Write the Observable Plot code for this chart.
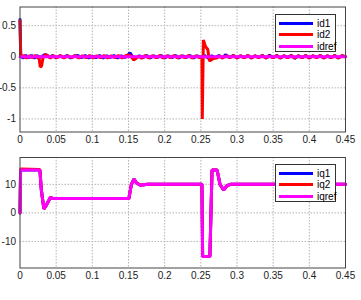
<!DOCTYPE html>
<html>
<head>
<meta charset="utf-8">
<script src="https://cdn.jsdelivr.net/npm/d3@7"></script>
<script src="https://cdn.jsdelivr.net/npm/@observablehq/plot@0.6"></script>
<style>
  body { margin: 0; background: #fff; }
  #wrap { position: relative; width: 361px; height: 300px; font-family: "Liberation Sans", Arial, sans-serif; }
  #top, #bot { position: absolute; left: 0; width: 361px; height: 150px; }
  #top { top: 0; } #bot { top: 150px; }
  .legend { position: absolute; background: #fff; border: 1px solid #333; width: 61px; height: 38px; box-sizing: border-box; }
  .legend .row { position: absolute; left: 3px; height: 11px; line-height: 11px; display: flex; align-items: center; font-size: 10px; color: #000; }
  .legend .sw { width: 34px; height: 3px; margin-right: 4px; }
</style>
</head>
<body>
<div id="wrap">
  <div id="top"></div>
  <div id="bot"></div>
</div>
<script>
// ---- data ----
const xTicks = [0, 0.05, 0.1, 0.15, 0.2, 0.25, 0.3, 0.35, 0.4, 0.45];
const xTickLabels = ["0", "0.05", "0.1", "0.15", "0.2", "0.25", "0.3", "0.35", "0.4", "0.45"];
const idTicks = [-1, -0.5, 0, 0.5];
const idTickLabels = ["-1", "-0.5", "0", "0.5"];
const iqTicks = [-10, 0, 10];
const iqTickLabels = ["-10", "0", "10"];
const idNames = ["id1", "id2", "idref"];
const iqNames = ["iq1", "iq2", "iqref"];
const seriesColors = ["#0000ff", "#ff0000", "#ff00ff"];

// id1 (blue): [t, value]
const id1 = [[0,0.6],[0.001,0.02],[0.004,-0.02],[0.008,0.02],[0.012,-0.015],[0.016,0.02],[0.02,-0.02],[0.024,0.015],[0.027,-0.01],[0.03,0.0],[0.034,0.035],[0.037,0.025],[0.041,-0.01],[0.045,0.02],[0.05,-0.02],[0.055,0.015],[0.06,-0.01],[0.065,0.02],[0.07,-0.02],[0.075,0.01],[0.08,0.02],[0.085,-0.015],[0.09,0.02],[0.095,-0.02],[0.1,0.01],[0.105,-0.015],[0.11,0.02],[0.115,-0.02],[0.12,0.015],[0.125,-0.01],[0.13,0.02],[0.135,-0.02],[0.14,0.015],[0.145,-0.01],[0.149,0.02],[0.152,0.065],[0.155,0.01],[0.16,-0.02],[0.165,0.015],[0.17,-0.015],[0.175,0.02],[0.18,-0.02],[0.185,0.015],[0.19,-0.01],[0.195,0.02],[0.2,-0.02],[0.205,0.015],[0.21,-0.015],[0.215,0.02],[0.22,-0.02],[0.225,0.015],[0.23,-0.01],[0.235,0.02],[0.24,-0.02],[0.245,0.015],[0.25,-0.01],[0.255,0.02],[0.26,-0.02],[0.265,0.015],[0.27,-0.015],[0.275,0.02],[0.28,-0.02],[0.284,0.03],[0.29,-0.01],[0.295,0.02],[0.3,-0.02],[0.305,0.015],[0.31,-0.015],[0.315,0.02],[0.32,-0.02],[0.325,0.015],[0.33,-0.01],[0.335,0.02],[0.34,-0.02],[0.345,0.025],[0.35,-0.015],[0.355,0.02],[0.36,-0.02],[0.365,0.015],[0.37,-0.01],[0.375,0.02],[0.38,-0.025],[0.385,0.015],[0.39,-0.015],[0.395,0.02],[0.4,-0.02],[0.405,0.015],[0.41,-0.01],[0.415,0.02],[0.42,-0.02],[0.425,0.015],[0.43,-0.015],[0.435,0.02],[0.44,-0.02],[0.445,0.015],[0.45,0.0]];

// id2 (red): [t, value]
const id2 = [[0,0.58],[0.001,0.0],[0.005,0.02],[0.009,-0.02],[0.013,0.015],[0.017,-0.015],[0.021,0.02],[0.025,-0.02],[0.0265,-0.03],[0.028,-0.165],[0.0298,-0.15],[0.0318,-0.02],[0.034,0.02],[0.0355,0.035],[0.038,0.02],[0.042,-0.02],[0.046,0.015],[0.051,-0.015],[0.056,0.02],[0.061,-0.02],[0.066,0.015],[0.071,-0.015],[0.076,0.02],[0.081,-0.02],[0.086,0.015],[0.091,-0.015],[0.096,0.02],[0.101,-0.02],[0.106,0.015],[0.111,-0.015],[0.116,0.02],[0.121,-0.02],[0.126,0.015],[0.131,-0.015],[0.136,0.02],[0.141,-0.02],[0.146,0.015],[0.151,0.03],[0.154,0.0],[0.157,-0.05],[0.16,-0.03],[0.164,0.01],[0.168,-0.025],[0.173,0.02],[0.178,-0.02],[0.183,0.015],[0.188,-0.015],[0.193,0.02],[0.198,-0.02],[0.203,0.015],[0.208,-0.015],[0.213,0.02],[0.218,-0.02],[0.223,0.015],[0.228,-0.015],[0.233,0.02],[0.238,-0.02],[0.243,0.015],[0.248,-0.015],[0.2515,0.0],[0.252,-1.0],[0.2535,0.27],[0.2565,0.16],[0.2595,0.12],[0.262,-0.07],[0.264,-0.05],[0.267,-0.03],[0.272,-0.02],[0.276,0.01],[0.28,-0.02],[0.285,0.015],[0.29,-0.015],[0.295,0.02],[0.3,-0.02],[0.305,0.015],[0.31,-0.015],[0.315,0.02],[0.32,-0.02],[0.325,0.015],[0.33,-0.015],[0.335,0.02],[0.34,-0.02],[0.345,0.015],[0.35,-0.015],[0.355,0.02],[0.36,-0.02],[0.365,0.015],[0.37,-0.015],[0.375,0.02],[0.38,-0.02],[0.385,0.015],[0.39,-0.015],[0.395,0.02],[0.4,-0.02],[0.405,0.015],[0.41,-0.015],[0.415,0.02],[0.42,-0.02],[0.425,0.015],[0.43,-0.015],[0.435,0.02],[0.44,-0.02],[0.445,0.015],[0.45,0.0]];

// idref (magenta)
const idref = [[0,0],[0.45,0]];

// iq series: [t, value]
const iq1 = [[0,0],[0.0008,15],[0.0275,15],[0.0295,8],[0.033,1.4],[0.036,2.5],[0.042,5.4],[0.046,5],[0.1505,5],[0.154,10],[0.1575,11.8],[0.161,10.5],[0.1665,9.7],[0.176,10],[0.2515,10],[0.2525,-15.3],[0.2625,-15.3],[0.2655,15],[0.2725,15],[0.2765,10],[0.2815,8],[0.286,9.5],[0.291,10],[0.45,10]];
const iq2 = [[0,0],[0.0008,15.4],[0.0275,15.2],[0.0295,8],[0.033,1.4],[0.036,2.5],[0.042,5.4],[0.046,5],[0.1505,5],[0.154,10],[0.1575,11.8],[0.161,10.5],[0.1665,9.7],[0.176,10],[0.2515,10],[0.2525,-15.3],[0.2625,-15.3],[0.2655,15],[0.2725,15],[0.2765,10],[0.2815,8],[0.286,9.5],[0.291,10],[0.45,10]];
const iqref = [[0,0],[0.0008,15],[0.0275,15],[0.0295,8],[0.033,1.4],[0.036,2.5],[0.042,5.4],[0.046,5],[0.1505,5],[0.154,10],[0.1575,11.8],[0.161,10.5],[0.1665,9.7],[0.176,10],[0.2515,10],[0.2525,-15.3],[0.2625,-15.3],[0.2655,15],[0.2725,15],[0.2765,10],[0.2815,8],[0.286,9.5],[0.291,10],[0.45,10]];

// ---- drawing ----
const fmt = (ticks, labels) => d => labels[ticks.indexOf(d)];

function panel(series, yDomain, yTicks, yLabels, mt, mb) {
  return Plot.plot({
    width: 361, height: 150,
    marginLeft: 19.5, marginRight: 16, marginTop: mt, marginBottom: mb,
    style: { fontFamily: "Liberation Sans, Arial, sans-serif", fontSize: "10px", background: "#fff", overflow: "visible" },
    x: { domain: [0, 0.45], ticks: xTicks, tickFormat: fmt(xTicks, xTickLabels), tickSize: 0, tickPadding: 4, label: null },
    y: { domain: yDomain, ticks: yTicks, tickFormat: fmt(yTicks, yLabels), tickSize: 0, tickPadding: 4, label: null },
    marks: [
      Plot.ruleX(xTicks.slice(1, -1), { stroke: "#b4b4b4", strokeDasharray: "1.5,1.5", strokeWidth: 1 }),
      Plot.ruleY(yTicks, { stroke: "#b4b4b4", strokeDasharray: "1.5,1.5", strokeWidth: 1 }),
      ...series.map((s, i) => Plot.line(s, { x: d => d[0], y: d => d[1], stroke: seriesColors[i], strokeWidth: 3, strokeLinejoin: "miter" })),
      Plot.frame({ stroke: "#444", strokeWidth: 1 }),
      Plot.axisX({ ticks: xTicks, tickFormat: fmt(xTicks, xTickLabels), tickSize: 0, tickPadding: 4, label: null, fill: "#222" }),
      Plot.axisY({ ticks: yTicks, tickFormat: fmt(yTicks, yLabels), tickSize: 0, tickPadding: 4, label: null, fill: "#222" })
    ]
  });
}

document.getElementById("top").append(panel([id1, id2, idref], [-1.21, 0.8], idTicks, idTickLabels, 6.5, 18.5));
document.getElementById("bot").append(panel([iq1, iq2, iqref], [-19.3, 19.4], iqTicks, iqTickLabels, 7, 32.5));

function legend(names, left, top) {
  const box = document.createElement("div");
  box.className = "legend";
  box.style.left = left + "px"; box.style.top = top + "px";
  names.forEach((n, i) => {
    const row = document.createElement("div");
    row.className = "row";
    row.style.top = (2.5 + i * 11.5) + "px";
    const sw = document.createElement("div");
    sw.className = "sw"; sw.style.background = seriesColors[i];
    const tx = document.createElement("span"); tx.textContent = n;
    row.append(sw, tx);
    box.append(row);
  });
  document.getElementById("wrap").append(box);
}
legend(idNames, 275, 14);
legend(iqNames, 275, 164);
</script>
</body>
</html>
